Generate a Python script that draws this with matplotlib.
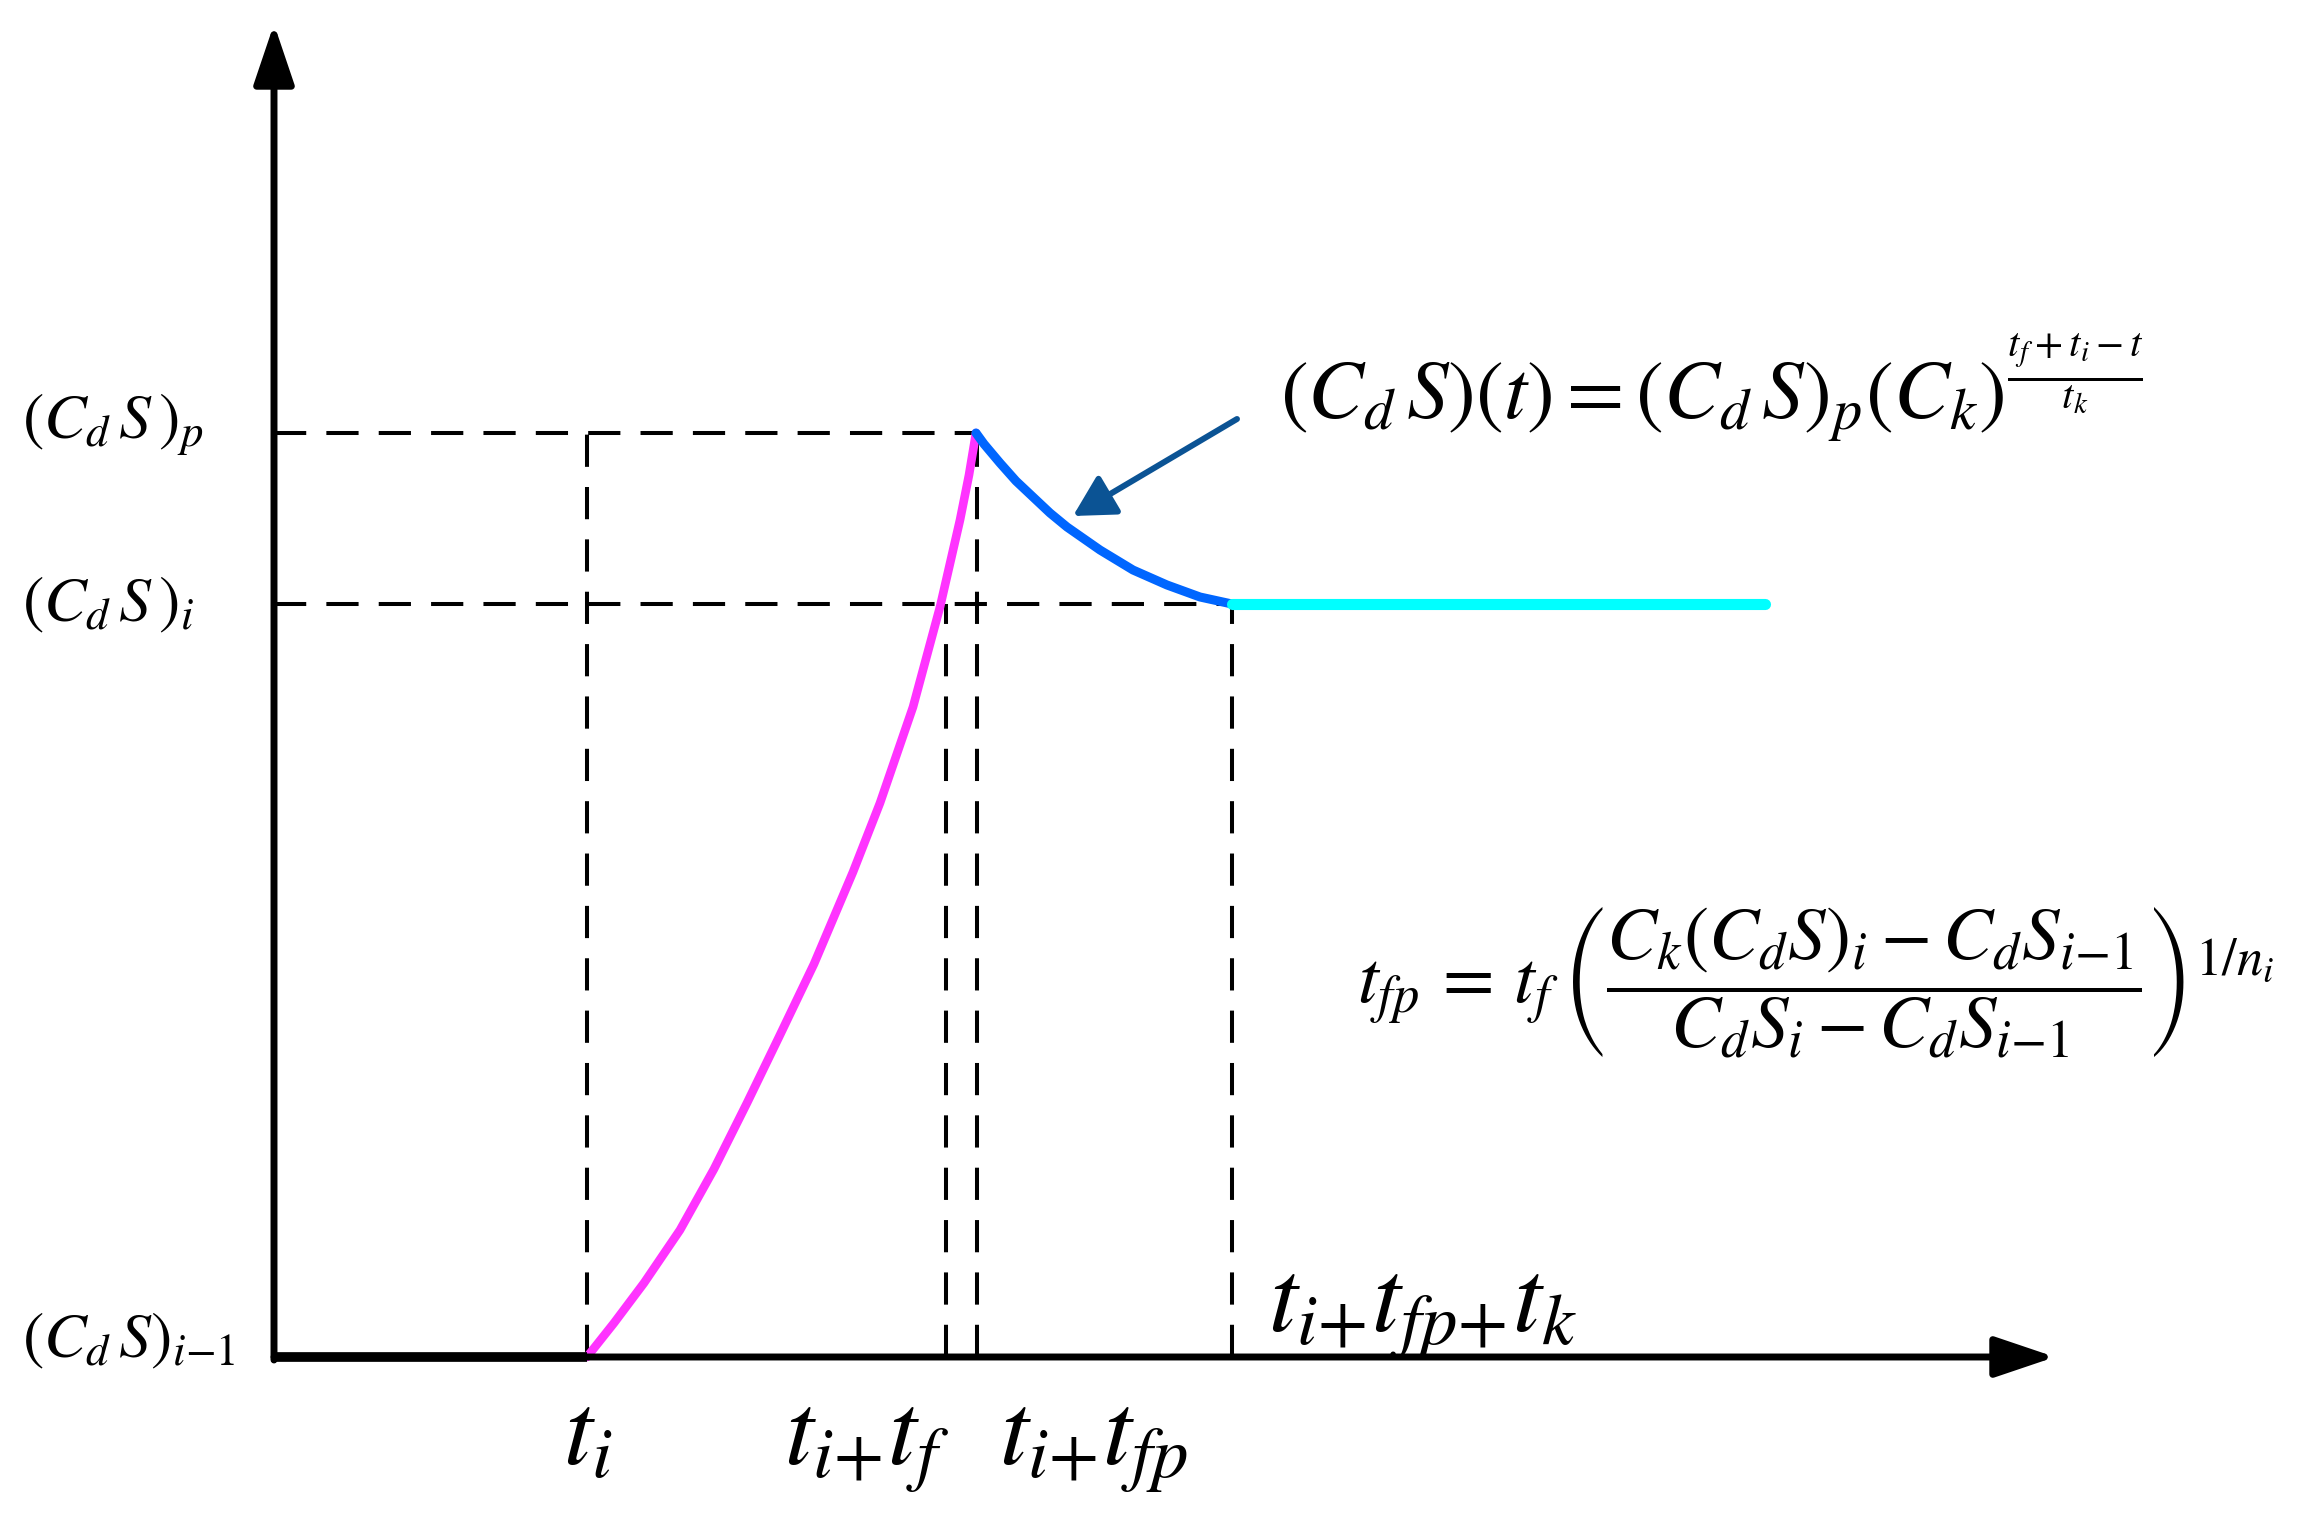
import matplotlib
matplotlib.use('Agg')
import matplotlib.pyplot as plt

# Times-like math text (STIX ships with matplotlib)
plt.rcParams['mathtext.fontset'] = 'stix'
plt.rcParams['font.family'] = ['STIXGeneral', 'DejaVu Sans']

# time marks on the x axis (arbitrary units)
t_i = 3.13
t_i_tf = 6.72
t_i_tfp = 7.03
t_i_tfp_tk = 9.58
t_end = 14.91

# levels on the y axis
cds_prev = 0.0
cds_i = 7.53
cds_p = 9.24

# axis lengths
x_axis_end = 17.81
y_axis_end = 13.33

# rising branch (magenta)
rise_t = [3.13, 3.40, 3.70, 4.06, 4.40, 4.73, 5.05, 5.40, 5.79, 6.06, 6.39, 6.66, 6.86, 6.95, 7.02]
rise_cds = [0.0, 0.34, 0.74, 1.27, 1.88, 2.54, 3.20, 3.93, 4.85, 5.54, 6.50, 7.50, 8.37, 8.82, 9.24]

# decay branch (blue)
decay_t = [7.02, 7.10, 7.26, 7.42, 7.59, 7.76, 7.93, 8.26, 8.59, 8.93, 9.26, 9.58]
decay_cds = [9.24, 9.13, 8.94, 8.76, 8.60, 8.44, 8.30, 8.07, 7.87, 7.72, 7.60, 7.53]

fig = plt.figure(figsize=(23.07, 15.13), dpi=100)
ax = fig.add_axes([0, 0, 1, 1])
ax.set_xlim(-2.74, 20.33)
ax.set_ylim(-1.56, 13.57)
ax.axis('off')

# axes with arrow heads
ax.annotate('', xy=(x_axis_end, 0), xytext=(0, 0),
            arrowprops=dict(arrowstyle='-|>,head_length=3.7,head_width=1.25',
                            mutation_scale=10, lw=5, color='k',
                            shrinkA=0, shrinkB=0), zorder=5)
ax.annotate('', xy=(0, y_axis_end), xytext=(0, -0.03),
            arrowprops=dict(arrowstyle='-|>,head_length=3.7,head_width=1.25',
                            mutation_scale=10, lw=5, color='k',
                            shrinkA=0, shrinkB=0), zorder=5)
# thick base level before t_i
ax.plot([0, t_i], [cds_prev, cds_prev], color='k', lw=7, solid_capstyle='butt', zorder=5)

# dashed guides
dash = dict(color='k', lw=2.9, ls=(0, (8, 5)), zorder=3)
ax.plot([0, t_i_tfp], [cds_p, cds_p], **dash)
ax.plot([0, t_i_tfp_tk], [cds_i, cds_i], **dash)
ax.plot([t_i, t_i], [cds_prev, cds_p], **dash)
ax.plot([t_i_tf, t_i_tf], [cds_prev, cds_i], **dash)
ax.plot([t_i_tfp, t_i_tfp], [cds_prev, cds_p], **dash)
ax.plot([t_i_tfp_tk, t_i_tfp_tk], [cds_prev, cds_i], **dash)

# curves
ax.plot(rise_t, rise_cds, color='#ff33ff', lw=6.2, solid_capstyle='round',
        solid_joinstyle='round', zorder=4)
ax.plot(decay_t, decay_cds, color='#0066ff', lw=6.5, solid_capstyle='round',
        solid_joinstyle='round', zorder=4)
ax.plot([t_i_tfp_tk, t_end], [cds_i, cds_i], color='#00ffff', lw=8,
        solid_capstyle='round', zorder=4)

# pointer arrow to the decay curve
ax.annotate('', xy=(7.99, 8.41), xytext=(9.63, 9.38),
            arrowprops=dict(arrowstyle='-|>,head_length=2.5,head_width=1.37',
                            mutation_scale=10, lw=4.3, color='#0b5394',
                            shrinkA=0, shrinkB=0), zorder=6)

# y labels
ylab = dict(fontsize=46, ha='left', va='baseline')
ax.text(-2.52, 9.18, r'$\left(C_d\,S\,\right)_p$', **ylab)
ax.text(-2.52, 7.36, r'$\left(C_d\,S\,\right)_i$', **ylab)
ax.text(-2.52, 0.0, r'$(C_d\,S)_{i{-}1}$', **ylab)

# x labels
xlab = dict(fontsize=75, ha='left', va='baseline')
ax.text(2.89, -1.08, r'$t_i$', **xlab)
ax.text(5.10, -1.08, r'$t_{i{+}}t_f$', **xlab)
ax.text(7.25, -1.08, r'$t_{i{+}}t_{fp}$', **xlab)
ax.text(9.94, 0.25, r'$t_{i{+}}t_{fp{+}}t_k$', **xlab)

# formulas
ax.text(10.06, 9.38,
        r'$\left(C_d\,S\right)\left(t\right)=\left(C_d\,S\right)_p\left(C_k\right)^{\frac{t_f+t_i-t}{t_k}}$',
        fontsize=60, ha='left', va='baseline')
ax.text(10.83, 3.54,
        r'$t_{fp}\,=\,t_f\,\left(\dfrac{C_k(C_dS)_i-C_dS_{i{-}1}}{C_dS_i-C_dS_{i{-}1}}\right)^{1/n_i}$',
        fontsize=54, ha='left', va='baseline')

fig.savefig('out.png', dpi=100)
